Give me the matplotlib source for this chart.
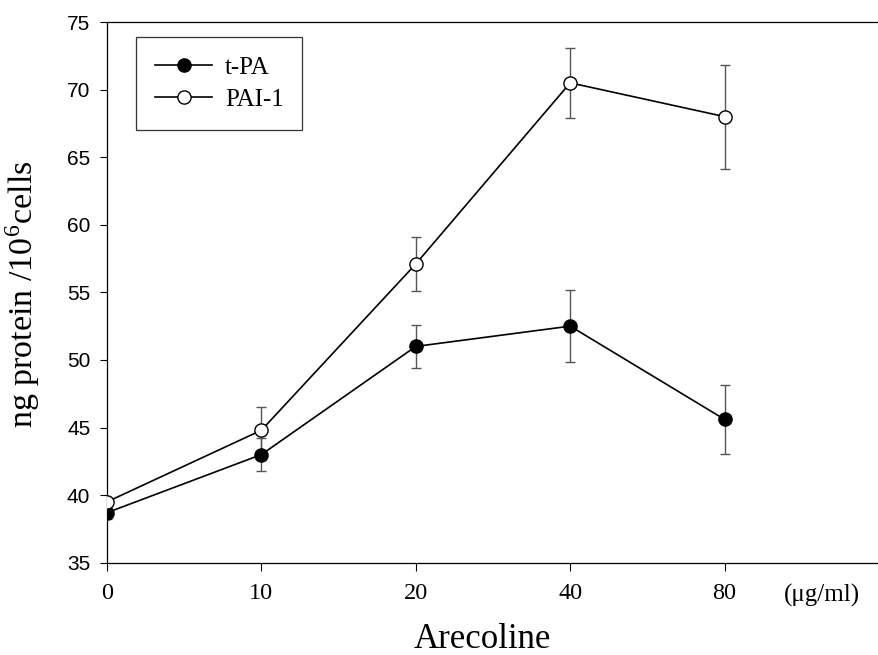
import matplotlib
matplotlib.use('Agg')
from matplotlib import pyplot as plt

# Arecoline dose (ug/ml) and measured protein levels
doses     = ['0', '10', '20', '40', '80']
tpa       = [38.7, 43.0, 51.0, 52.5, 45.6]
tpa_err   = [0.5, 1.2, 1.6, 2.65, 2.55]
pai1      = [39.5, 44.8, 57.1, 70.5, 68.0]
pai1_err  = [0.3, 1.7, 2.0, 2.6, 3.85]

plt.rcParams['mathtext.fontset'] = 'stix'
SERIF = 'Liberation Serif'
SANS  = 'Liberation Sans'

fig = plt.figure(figsize=(8.79, 6.55), dpi=100)
ax  = fig.add_axes([107/879, 1-562.7/655, 772/879, 540.7/655])

x = list(range(len(doses)))

# error bars first so the markers of both series sit on top
ax.errorbar(x, pai1, yerr=pai1_err, fmt='none', ecolor='#555555', elinewidth=1.0, capsize=3.8, capthick=1.0, zorder=2)
ax.errorbar(x, tpa,  yerr=tpa_err,  fmt='none', ecolor='#555555', elinewidth=1.0, capsize=3.8, capthick=1.0, zorder=2)

ax.plot(x, tpa,  color='black', lw=1.2, marker='o', ms=9.5, mfc='black', mec='black', mew=1.0, label='t-PA', zorder=3)
ax.plot(x, pai1, color='black', lw=1.2, marker='o', ms=9.5, mfc='white', mec='black', mew=1.0, label='PAI-1', zorder=4)

ax.set_xlim(0, 5)
ax.set_ylim(35, 75)
ax.set_yticks(range(35, 76, 5))
ax.set_xticks(x)
ax.set_xticklabels(doses, fontsize=17.5, family=SERIF)
for lbl in ax.get_yticklabels():
	lbl.set_family(SANS)
	lbl.set_fontsize(15)

ax.tick_params(axis='y', direction='out', length=5, width=0.8, pad=7)
ax.tick_params(axis='x', direction='out', length=5.5, width=0.8, pad=9)

ax.spines['right'].set_visible(False)
for s in ('left', 'bottom', 'top'):
	ax.spines[s].set_linewidth(0.9)

ax.text(4.63, -0.04, '(\u03bcg/ml)', transform=ax.get_xaxis_transform(), ha='center', va='top', fontsize=18, family=SERIF)

fig.text(482/879, 1-648/655, 'Arecoline', ha='center', va='baseline', fontsize=25, family=SERIF)
fig.text(42/879, 1-294/655, 'ng protein /10$^{\\mathregular{6}}$cells', rotation=90, ha='right', va='center',
	fontsize=24.5, family=SERIF)

leg = ax.legend(loc='upper left', bbox_to_anchor=(0.0376, 0.9717), borderaxespad=0,
	prop={'family': SERIF, 'size': 18}, frameon=True, fancybox=False, edgecolor='black',
	handlelength=2.3, handletextpad=0.5, labelspacing=0.4, borderpad=0.75)
leg.get_frame().set_linewidth(0.9)

fig.savefig('out.png', dpi=100)
